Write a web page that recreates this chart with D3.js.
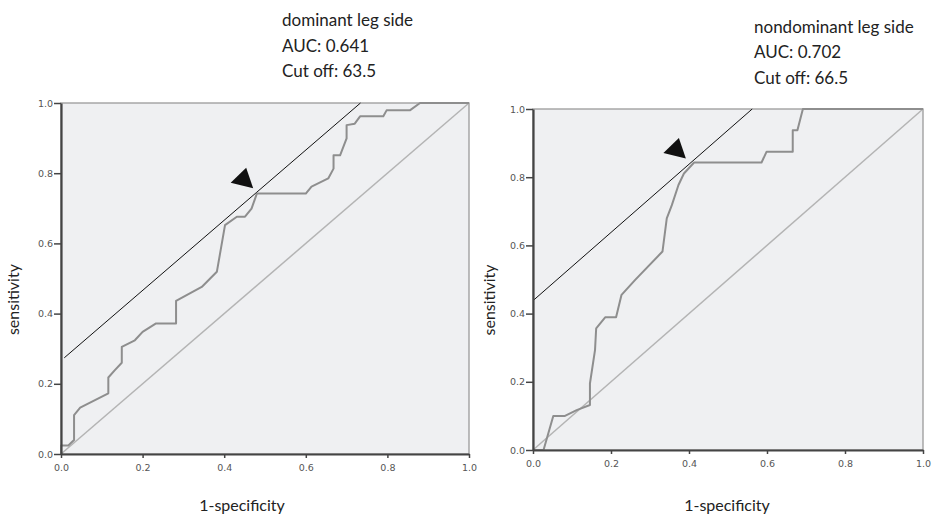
<!DOCTYPE html>
<html>
<head>
<meta charset="utf-8">
<script src="https://cdn.jsdelivr.net/npm/d3@7/dist/d3.min.js"></script>
<style>
    body { margin: 0; background: #ffffff; }
    svg { display: block; }
    .tick text { font-family: 'DejaVu Sans', Verdana, sans-serif; font-size: 9.5px; fill: #555; }
    .tick line { stroke: #444; stroke-width: 1.5; }
    .domain { stroke: #444; stroke-width: 2.2; }
    .note, .axisTitle { font-family: Lato, 'Open Sans', sans-serif; fill: #222; }
</style>
</head>
<body>
<div id="chart"></div>
<script>
(function(d3) {
    'use strict';

    // ROC curve, dominant leg side (1-specificity, sensitivity)
    var dominantFpr = [0, 0, 0.018, 0.032, 0.032, 0.047, 0.116, 0.116, 0.132, 0.149, 0.149, 0.181, 0.2,
        0.233, 0.282, 0.282, 0.345, 0.382, 0.402, 0.431, 0.451, 0.467, 0.48, 0.6, 0.614, 0.655, 0.668,
        0.668, 0.684, 0.7, 0.7, 0.72, 0.733, 0.79, 0.798, 0.855, 0.88, 1];
    var dominantSens = [0, 0.024, 0.024, 0.04, 0.111, 0.132, 0.173, 0.218, 0.239, 0.26, 0.305, 0.324, 0.348,
        0.372, 0.372, 0.436, 0.476, 0.519, 0.652, 0.676, 0.676, 0.699, 0.742, 0.742, 0.762, 0.785, 0.813,
        0.851, 0.851, 0.899, 0.937, 0.941, 0.962, 0.962, 0.979, 0.979, 1, 1];

    // ROC curve, nondominant leg side
    var nondominantFpr = [0, 0.027, 0.052, 0.082, 0.112, 0.146, 0.146, 0.159, 0.162, 0.185, 0.213, 0.227,
        0.262, 0.332, 0.343, 0.356, 0.373, 0.387, 0.413, 0.586, 0.599, 0.666, 0.666, 0.678, 0.692, 1];
    var nondominantSens = [0, 0, 0.1, 0.1, 0.117, 0.132, 0.195, 0.293, 0.357, 0.389, 0.389, 0.455,
        0.499, 0.582, 0.679, 0.718, 0.777, 0.811, 0.843, 0.843, 0.875, 0.875, 0.938, 0.938, 1, 1];

    // Tangent lines through the cut off point: [x0, x1] and intercept
    var dominantTangentX = [0.008, 0.734];
    var dominantIntercept = 0.266;
    var nondominantTangentX = [0, 0.562];
    var nondominantIntercept = 0.438;

    // Arrow tips (pointing at the cut off)
    var dominantArrow = [0.471, 0.757];
    var nondominantArrow = [0.392, 0.855];

    // Annotation text
    var dominantNotes = ['dominant leg side', 'AUC: 0.641', 'Cut off: 63.5'];
    var nondominantNotes = ['nondominant leg side', 'AUC: 0.702', 'Cut off: 66.5'];

    var tickValues = [0, 0.2, 0.4, 0.6, 0.8, 1.0];

    var svg = d3.select('#chart').append('svg')
        .attr('width', 933)
        .attr('height', 518);

    var panels = [
        {fpr: dominantFpr, sens: dominantSens, tangentX: dominantTangentX, intercept: dominantIntercept,
            arrow: dominantArrow, notes: dominantNotes,
            box: {left: 61, top: 103, width: 408, height: 351},
            noteX: 282, noteY: 26, titleX: 242, sensX: 19},
        {fpr: nondominantFpr, sens: nondominantSens, tangentX: nondominantTangentX, intercept: nondominantIntercept,
            arrow: nondominantArrow, notes: nondominantNotes,
            box: {left: 533, top: 109, width: 390, height: 341},
            noteX: 754, noteY: 32.5, titleX: 727, sensX: 495}
    ];

    panels.forEach(function(p) {
        var b = p.box;
        var x = d3.scaleLinear().domain([0, 1]).range([0, b.width]);
        var y = d3.scaleLinear().domain([0, 1]).range([b.height, 0]);

        var g = svg.append('g')
            .attr('transform', 'translate(' + b.left + ',' + b.top + ')');

        // Plot background and frame
        g.append('rect')
            .attr('width', b.width)
            .attr('height', b.height)
            .attr('fill', '#eff0f2')
            .attr('stroke', '#9a9a9a')
            .attr('stroke-width', 1.3);

        // Reference diagonal
        g.append('line')
            .attr('x1', x(0)).attr('y1', y(0))
            .attr('x2', x(1)).attr('y2', y(1))
            .attr('stroke', '#b4b4b4')
            .attr('stroke-width', 1.5);

        // Tangent line
        g.append('line')
            .attr('x1', x(p.tangentX[0])).attr('y1', y(p.tangentX[0] + p.intercept))
            .attr('x2', x(p.tangentX[1])).attr('y2', y(p.tangentX[1] + p.intercept))
            .attr('stroke', '#111')
            .attr('stroke-width', 1);

        // ROC curve
        var points = p.fpr.map(function(f, i) { return [f, p.sens[i]]; });
        g.append('path')
            .datum(points)
            .attr('fill', 'none')
            .attr('stroke', '#8e8e8e')
            .attr('stroke-width', 2)
            .attr('stroke-linejoin', 'round')
            .attr('d', d3.line()
                .x(function(d) { return x(d[0]); })
                .y(function(d) { return y(d[1]); }));

        // Arrowhead
        var tx = x(p.arrow[0]), ty = y(p.arrow[1]);
        g.append('path')
            .attr('d', 'M' + tx + ',' + ty + 'L' + (tx - 22.5) + ',' + (ty - 5.5) +
                'L' + (tx - 7) + ',' + (ty - 20.5) + 'Z')
            .attr('fill', '#111');

        // Axes
        g.append('g')
            .attr('transform', 'translate(0,' + b.height + ')')
            .call(d3.axisBottom(x).tickValues(tickValues).tickFormat(d3.format('.1f'))
                .tickSize(4).tickSizeOuter(0).tickPadding(6));

        g.append('g')
            .call(d3.axisLeft(y).tickValues(tickValues).tickFormat(d3.format('.1f'))
                .tickSize(7).tickSizeOuter(0).tickPadding(1));

        // Axis titles
        svg.append('text')
            .attr('class', 'axisTitle')
            .attr('x', p.titleX)
            .attr('y', 511)
            .attr('text-anchor', 'middle')
            .attr('font-size', 16)
            .text('1-specificity');

        svg.append('text')
            .attr('class', 'axisTitle')
            .attr('transform', 'translate(' + p.sensX + ',' + (b.top + b.height * 0.56) + ') rotate(-90)')
            .attr('text-anchor', 'middle')
            .attr('font-size', 16)
            .text('sensitivity');

        // Annotation block
        svg.append('g').selectAll('text')
            .data(p.notes)
            .enter().append('text')
            .attr('class', 'note')
            .attr('x', p.noteX)
            .attr('y', function(d, i) { return p.noteY + i * 25.5; })
            .attr('font-size', 17)
            .text(function(d) { return d; });
    });
}(d3));
</script>
</body>
</html>
